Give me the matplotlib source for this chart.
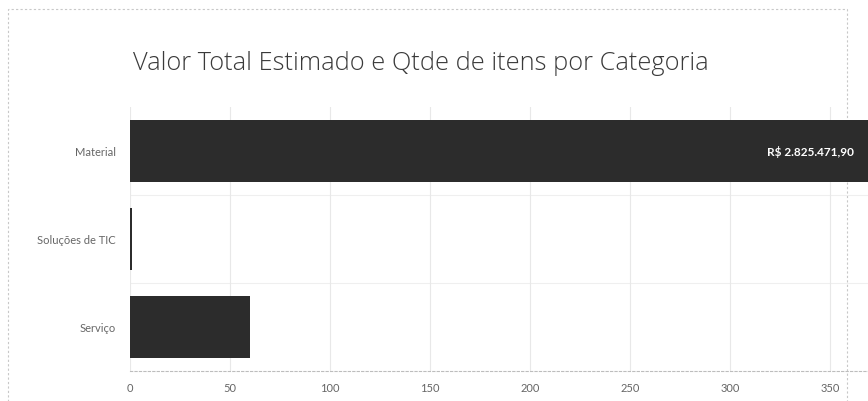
# Barras horizontais: valor total estimado e quantidade de itens por categoria
import matplotlib.pyplot as plt
from matplotlib.patches import Rectangle

categorias = ['Material', 'Soluções de TIC', 'Serviço']
qtde_itens = [385, 1, 60]
valores_rotulo = ['R$ 2.825.471,90', '', '']
xticks = [0, 50, 100, 150, 200, 250, 300, 350]

plt.rcParams['font.family'] = ['Lato', 'DejaVu Sans']

W, H = 868, 402
fig = plt.figure(figsize=(W / 100, H / 100), dpi=100)

# moldura pontilhada do cartão (atrás das barras)
fig.patches.append(Rectangle((8 / W, -0.05), (847 - 8) / W, 1.05 - 10 / H,
                             transform=fig.transFigure, fill=False, zorder=-1,
                             edgecolor='#c8c8c8', linestyle=(0, (2, 2)), linewidth=0.8))

fig.text(133 / W, 1 - 63 / H, 'Valor Total Estimado e Qtde de itens por Categoria',
         fontsize=18.3, color='#3a3a3a', va='center', ha='left',
         family=['Open Sans', 'DejaVu Sans'], fontweight='light')

left, right = 130, 910
top, bottom = 108, 372
ax = fig.add_axes([left / W, 1 - bottom / H, (right - left) / W, (bottom - top) / H])
ax.patch.set_alpha(0)

pos = list(range(len(categorias)))
ax.barh(pos, qtde_itens, height=0.7, color='#2c2c2c', zorder=3)
ax.set_yticks(pos)
ax.set_yticklabels(categorias)
ax.set_ylim(len(categorias) - 0.5, -0.5)
ax.set_xlim(0, 390)
ax.set_xticks(xticks)

for p, v, lab in zip(pos, qtde_itens, valores_rotulo):
    if lab:
        ax.text(v - 23, p, lab, color='white', fontsize=8.5,
                fontweight='bold', ha='right', va='center', zorder=4)

# linhas de grade verticais e separadores de categoria
ax.grid(axis='x', color='#e8e8e8', linewidth=0.8, zorder=0)
for b in [0.5, 1.5]:
    ax.axhline(b, color='#efefef', linewidth=0.8, zorder=0)

for s in ['top', 'right', 'left']:
    ax.spines[s].set_visible(False)
ax.spines['bottom'].set_color('#bdbdbd')
ax.spines['bottom'].set_linestyle((0, (2, 2)))

ax.tick_params(axis='both', length=0, labelsize=8, labelcolor='#666666')
ax.tick_params(axis='y', pad=10)
ax.tick_params(axis='x', pad=8)

fig.savefig('out.png', dpi=100)
